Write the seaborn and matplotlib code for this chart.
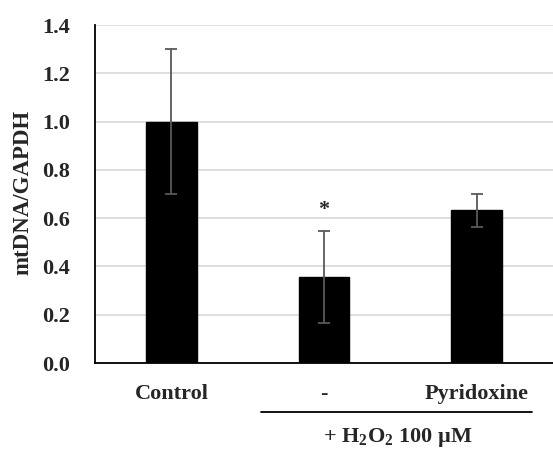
import matplotlib
matplotlib.use("Agg")
import matplotlib.pyplot as plt
import matplotlib.transforms as mtransforms
import numpy as np
import pandas as pd
import seaborn as sns

# values
groups = ["Control", "-", "Pyridoxine"]
ratio = [1.00, 0.357, 0.632]
ratio_err = [0.30, 0.19, 0.07]
star_groups = ["-"]
y_ticks = [0.0, 0.2, 0.4, 0.6, 0.8, 1.0, 1.2, 1.4]


def main():
    sns.set_style("white")
    plt.rcParams["font.family"] = ["Liberation Serif", "DejaVu Serif"]
    plt.rcParams["font.weight"] = "bold"
    plt.rcParams["mathtext.fontset"] = "custom"
    plt.rcParams["mathtext.rm"] = "Liberation Serif:bold"
    plt.rcParams["mathtext.bf"] = "Liberation Serif:bold"
    plt.rcParams["mathtext.default"] = "bf"

    df = pd.DataFrame({"group": groups, "ratio": ratio, "err": ratio_err})

    fig = plt.figure(figsize=(5.53, 4.49), dpi=100)
    ax = fig.add_axes([0.1718, 0.1915, 0.8282, 0.7528])

    sns.barplot(data=df, x="group", y="ratio", order=groups, color="black",
                saturation=1, width=0.33, errorbar=None, ax=ax, zorder=3)
    for patch in ax.patches:
        patch.set_edgecolor("black")

    xs = np.arange(len(groups))
    ax.errorbar(xs, df["ratio"], yerr=df["err"], fmt="none",
                ecolor="#595959", elinewidth=1.3, capsize=4, capthick=1.3,
                zorder=4)

    # significance marks
    for g in star_groups:
        i = groups.index(g)
        ax.text(i, df["ratio"][i] + df["err"][i] + 0.085, "*", ha="center",
                va="center", fontsize=16, fontweight="bold")

    ax.set_xlim(-0.5, 2.5)
    ax.set_ylim(0, 1.4)
    ax.set_yticks(y_ticks)
    ax.set_yticklabels([f"{t:.1f}" for t in y_ticks], fontsize=16,
                       fontweight="bold")
    ax.set_xticks(xs)
    ax.set_xticklabels(groups, fontsize=16, fontweight="bold")
    ax.tick_params(axis="x", length=0, pad=15)
    ax.tick_params(axis="y", length=0, pad=18)

    ax.yaxis.grid(True, color="#d9d9d9", linewidth=1.2, zorder=0)
    ax.set_axisbelow(True)
    sns.despine(ax=ax, top=True, right=True)
    ax.spines["left"].set_color("black")
    ax.spines["bottom"].set_color("black")
    ax.spines["left"].set_linewidth(1.3)
    ax.spines["bottom"].set_linewidth(1.3)

    ax.set_xlabel("")
    ax.set_ylabel("mtDNA/GAPDH", fontsize=16.5, fontweight="bold")
    ax.yaxis.set_label_coords(-0.135, 0.505)

    # treatment bracket under the H2O2 groups
    trans = mtransforms.blended_transform_factory(ax.transData, ax.transAxes)
    ax.plot([0.585, 2.363], [-0.145, -0.145], color="black", lw=1.3,
            transform=trans, clip_on=False)
    ax.text(1.48, -0.22, r"+ H$_2$O$_2$ 100 µM", transform=trans,
            ha="center", va="center", fontsize=16, fontweight="bold")

    fig.savefig("out.png", dpi=100)


if __name__ == "__main__":
    main()
